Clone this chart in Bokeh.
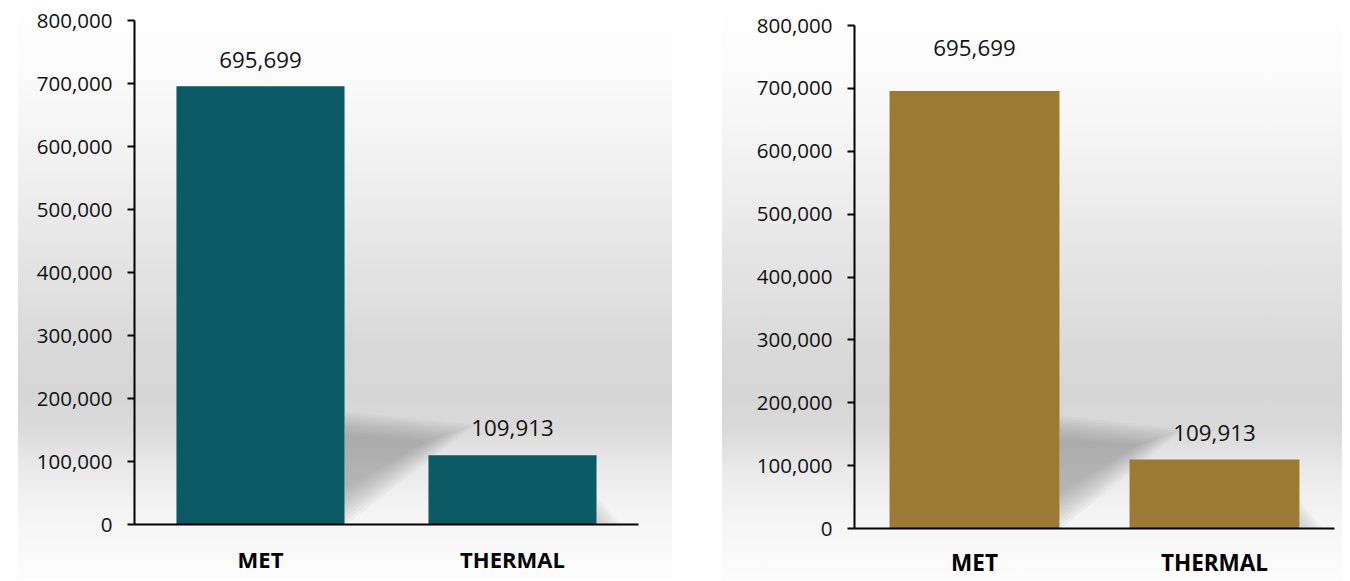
from bokeh.plotting import figure
from bokeh.models import Range1d, FixedTicker, NumeralTickFormatter, Spacer, ColumnDataSource
from bokeh.layouts import row, column
from bokeh.embed import file_html
from bokeh.resources import INLINE
from bokeh.core.properties import value

# ---- data ----
categories = ["MET", "THERMAL"]
left_values = [695699, 109913]
right_values = [695699, 109913]
value_labels = ["695,699", "109,913"]
y_ticks = [0, 100000, 200000, 300000, 400000, 500000, 600000, 700000, 800000]

FONT = "Open Sans"
GRADIENT = ("linear-gradient(to bottom, #ffffff 0%, #fbfbfb 12%, #f5f5f5 22%, #eeeeee 32%, "
            "#e6e6e6 42%, #dfdfdf 52%, #d9d9d9 60%, #d6d6d6 68%, #dadada 74%, "
            "#e8e8e8 80%, #f2f2f2 87%, #f8f8f8 93%, #fcfcfc 100%)")


def make_panel(vals, color, width, height, b_left, b_right, b_top, b_bottom,
               bar_width, label_offsets, cat_size, cat_standoff):
    xs = [i + 0.5 for i in range(len(categories))]
    p = figure(width=width, height=height, output_backend="svg", toolbar_location=None,
               x_range=Range1d(0, len(categories)), y_range=Range1d(0, 800000),
               min_border_left=b_left, min_border_right=b_right,
               min_border_top=b_top, min_border_bottom=b_bottom)
    p.styles = {"background": GRADIENT}
    p.background_fill_color = None
    p.border_fill_color = None
    p.outline_line_color = None
    p.grid.visible = False

    # soft cast shadow behind the bars (decorative, derived from bar geometry)
    met_right = xs[0] + bar_width / 2
    th_right = xs[1] + bar_width / 2
    tv = vals[1]
    n = 10
    for k in range(n):
        s = 0.5 + 0.55 * k / (n - 1)        # from inner core to outer halo
        cx, cy = met_right + 0.16, tv * 1.0
        ax, ay = met_right, tv * 1.6
        bx, by = met_right + 0.5, tv * 1.42
        dx, dy = met_right, tv * 0.03
        px_ = [cx + (ax - cx) * s, cx + (bx - cx) * s, cx + (dx - cx) * s]
        py_ = [cy + (ay - cy) * s, cy + (by - cy) * s, cy + (dy - cy) * s]
        px_[0] = px_[2] = met_right
        p.patch(px_, py_, fill_color="#707070", fill_alpha=0.06, line_color=None)
    for k in range(6):
        s = 1 - 0.13 * k
        p.patch([th_right, th_right + 0.1 * s, th_right],
                [tv * 0.4 * s, 0, 0], fill_color="#808080", fill_alpha=0.05, line_color=None)

    src = ColumnDataSource(dict(x=xs, top=vals, label=value_labels, off=label_offsets))
    p.vbar(x="x", top="top", width=bar_width, bottom=0, source=src,
           fill_color=color, line_color=None)
    p.text(x="x", y="top", text="label", source=src, y_offset="off",
           text_align="center", text_baseline="middle",
           text_font=value(FONT), text_font_size="22.3px", text_color="#111111")

    p.xaxis.ticker = FixedTicker(ticks=xs)
    p.xaxis.major_label_overrides = {x: c for x, c in zip(xs, categories)}
    p.xaxis.major_tick_line_color = None
    p.xaxis.minor_tick_line_color = None
    p.xaxis.axis_line_color = "black"
    p.xaxis.axis_line_width = 2
    p.xaxis.major_label_text_font = FONT
    p.xaxis.major_label_text_font_style = "bold"
    p.xaxis.major_label_text_font_size = cat_size
    p.xaxis.major_label_text_color = "black"
    p.xaxis.major_label_standoff = cat_standoff

    p.yaxis.ticker = FixedTicker(ticks=y_ticks)
    p.yaxis.formatter = NumeralTickFormatter(format="0,0")
    p.yaxis.axis_line_color = "black"
    p.yaxis.axis_line_width = 2
    p.yaxis.major_tick_line_color = "black"
    p.yaxis.major_tick_line_width = 2
    p.yaxis.major_tick_in = 0
    p.yaxis.major_tick_out = 7
    p.yaxis.minor_tick_line_color = None
    p.yaxis.major_label_text_font = FONT
    p.yaxis.major_label_text_font_size = "20.5px"
    p.yaxis.major_label_text_color = "#111111"
    p.yaxis.major_label_standoff = 15
    return p


p1 = make_panel(left_values, "#0b5a65", 654, 578, 116, 34, 20, 54, 0.667, [-26, -27],
                "22px", 13)
p2 = make_panel(right_values, "#9c7a33", 620, 575, 132, 8, 20, 45, 0.708, [-43, -26],
                "22.5px", 12)

layout = row(Spacer(width=18), column(p1), Spacer(width=50),
             column(Spacer(height=5), p2))
open("out.html", "w").write(file_html(layout, INLINE))
